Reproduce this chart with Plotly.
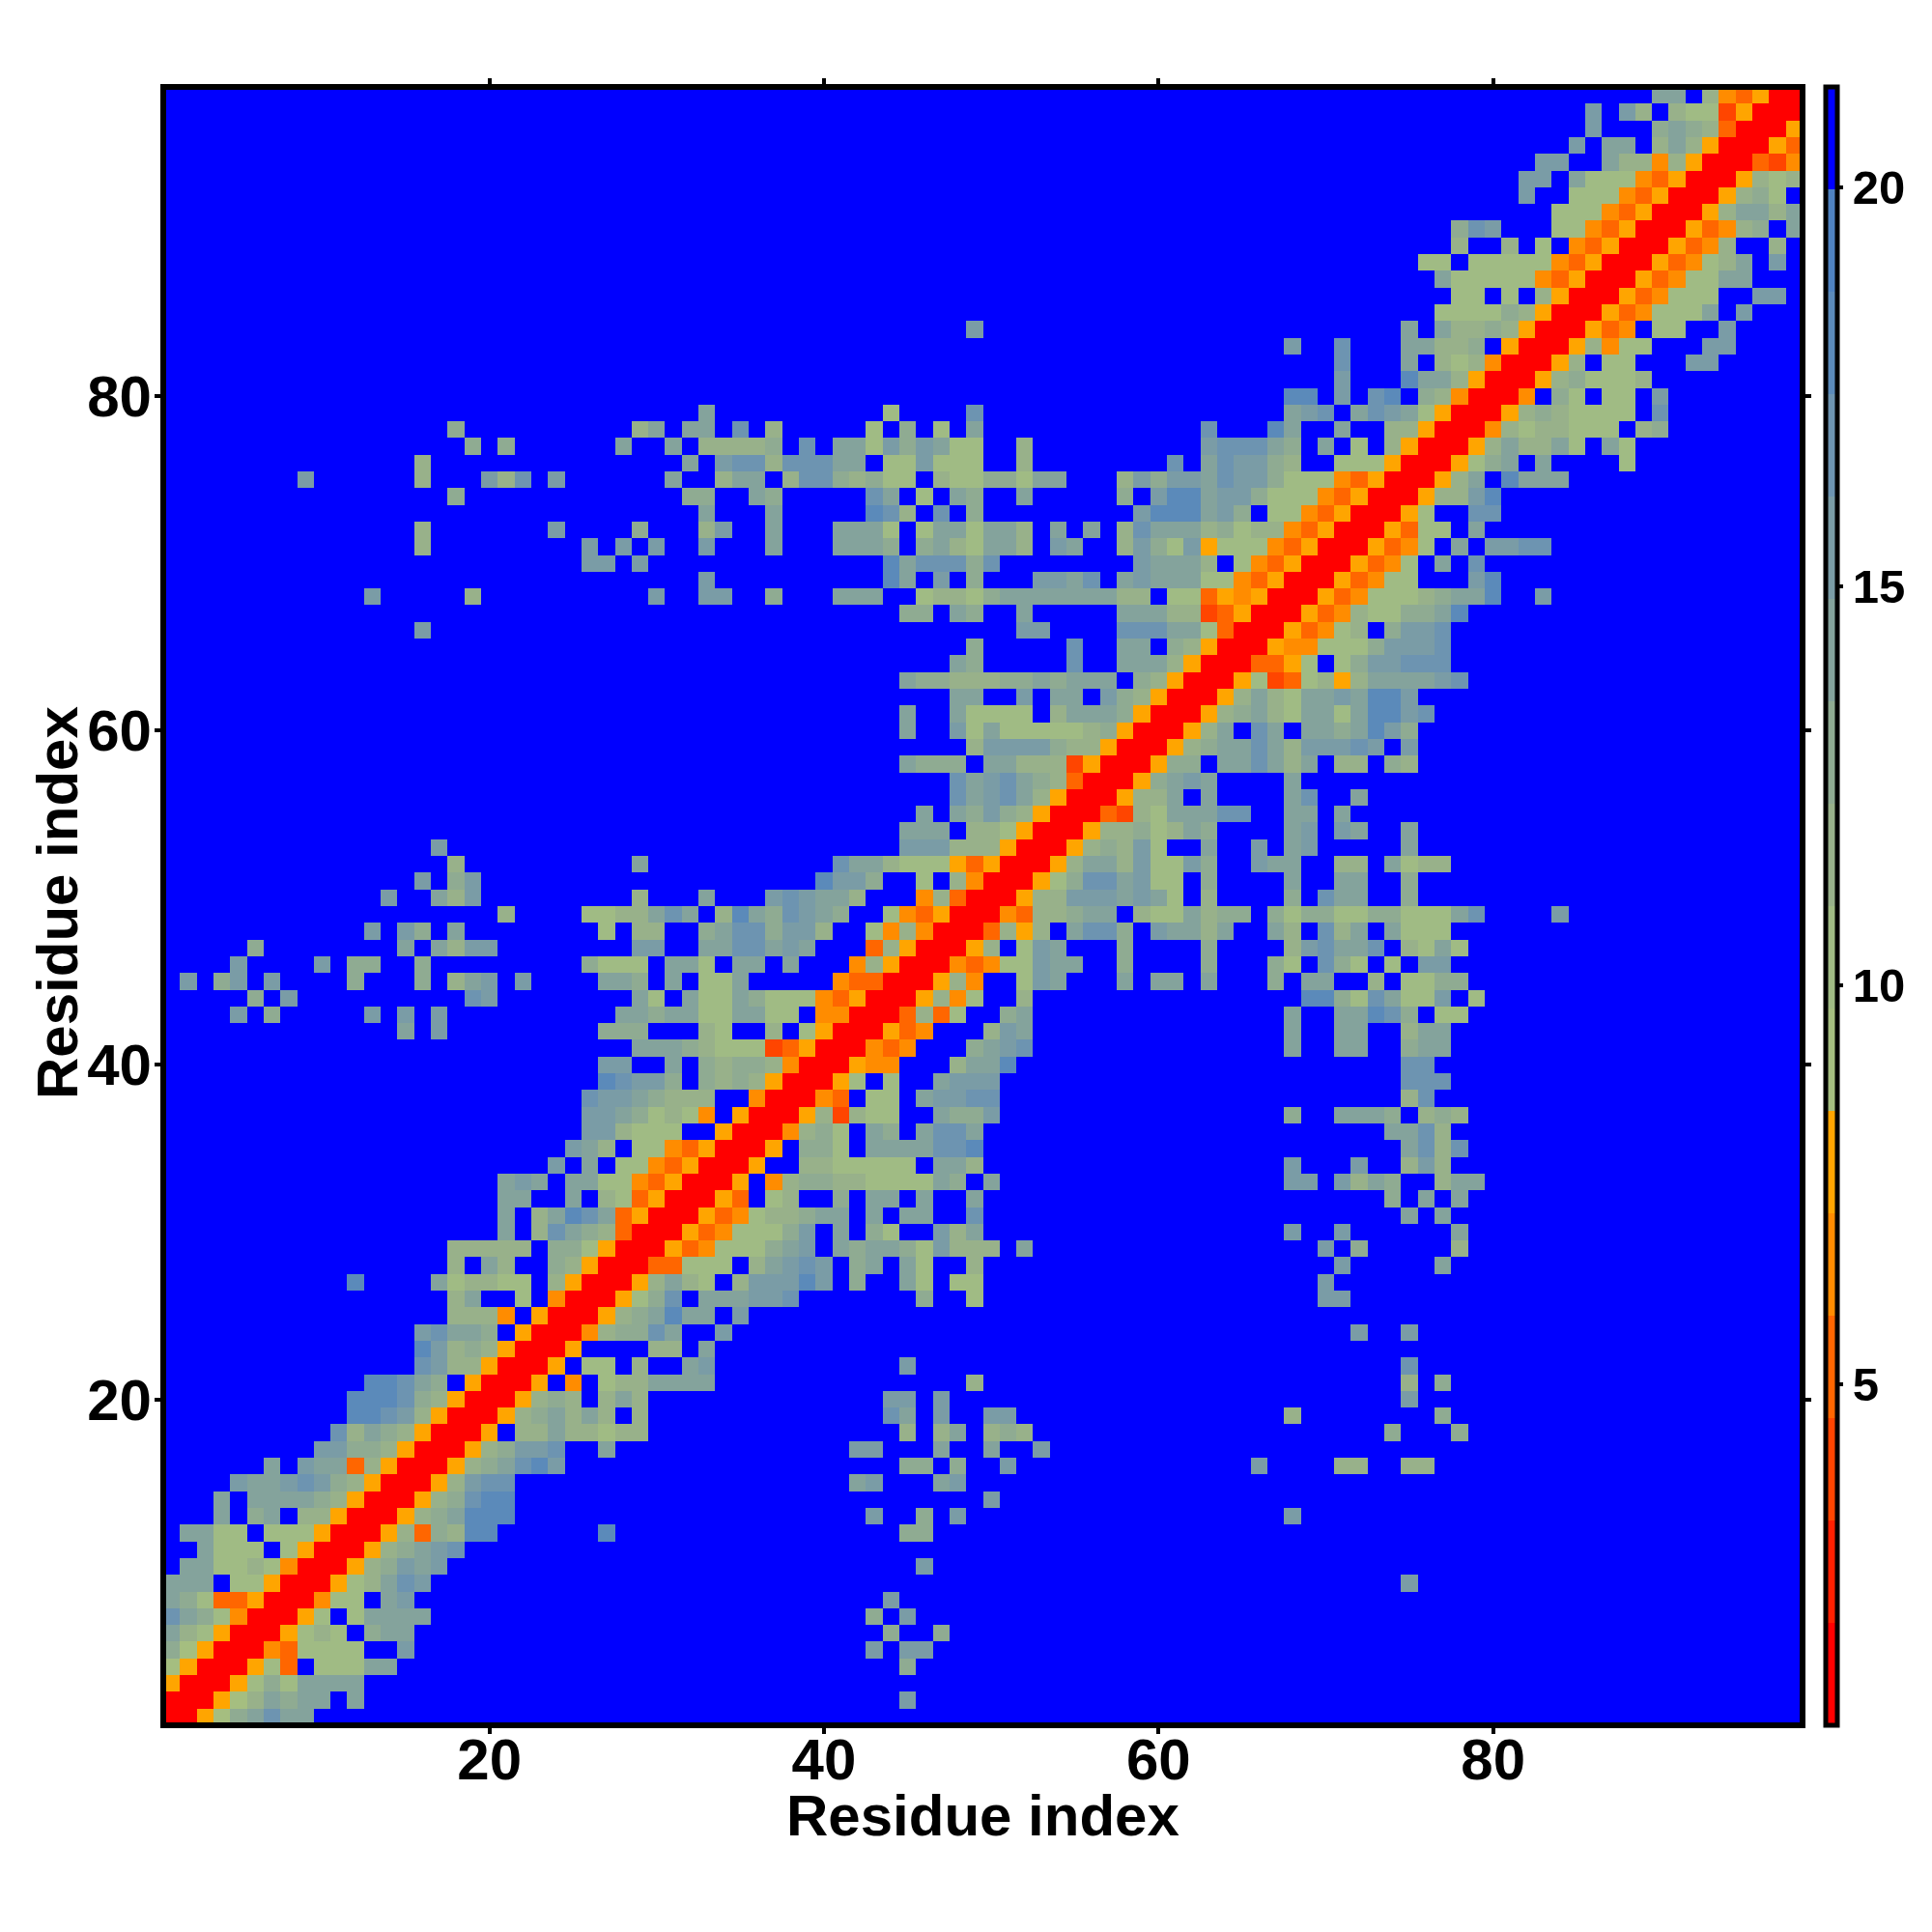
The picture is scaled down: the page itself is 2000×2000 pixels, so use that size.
import plotly.graph_objects as go

# One string per residue (row = residue index), columns 1..row; the map is a symmetric distance matrix.
# Each character is a distance class ("." = beyond the last class); "|" only groups columns.
distance_rows = [
"0",
"00",
"500",
"6500",
"96500",
"a87500",
"ca97400",
"a9733500",
"aaa.77500",
".aa7787400",
"..a777.7500",
".aa77.777500",
"...a.9a.88500",
"...a.aaaa98500",
"....baabcb98500",
"......a.baa38500",
".........bb998500",
"..........c8a98500",
"...........ddcb8500",
"...........dddc98500",
"............ddca9.500",
"...............cb88500",
"...............db898500",
"...............bcaa9.500",
".................8884.500",
".................8a..7.40|0",
"...........d....a78877.85|00",
".................8.a8..98|500",
".................88888.99|7500",
"....................a.8ca|98300",
"....................a.8ad|ca3500",
"....................aa..a|.873500",
"....................aba.a|a7743500",
".......................b.|a.7743500",
"........................b|a8.7743500",
".........................|bb8777..500",
".........................|bba97874.500",
".........................|cbba9888..400",
".........................|.dcbb9.9898500",
".........................|.bb..a.98998400",
".........................|...aaa9877723500",
"..............a.b........|.999...87..8.7500",
"....b.9.....b.b.b........|..aa9aa77aa77.4400",
".....9.b..........cb.....|...a7.a77a977743500",
".b.9b.b....9...9.8ab.b...|.aa9.a.77a.....43300",
"....b....b.99..9.........|9777.aa7.aa.a...48500",
".....9........a.a8bb.....|...bb..aaccaba...38500",
"............b.b9.a.......|.7.88..9acc9bb8..748400",
"....................8....|7788aca.8da9cba9..743500",
".............b..a8b......|...8...a...bcbaa8...48300",
"...............b.9b......|..............dbb9..7.840|0",
".................8.......|...a...........caa8777535|00",
"................b........|...................bbb888|500",
".........................|...................aaa.88|7500",
".........................|....................a.a9b|98500",
".........................|......................cab|ca8500",
".........................|......................cab|ca98300",
".........................|...................a999.a|a8882500",
".........................|.......................8b|bbb988500",
".........................|...................a..b7a|7777789500",
".........................|...................a..a77|77.8aaa9500",
".........................|......................aa.|.b.aa.b98500",
".........................|...................a99888|99a9aaa.98500",
".........................|......................a9.|....c..aaa8500",
".........................|.......................9.|....c..aa.98500",
"...............b.........|.........................|.bb....cccaa7300",
".........................|...................99.a9.|.a.....aaa8823500",
"............b.....8......|....b..bb..9...aaa..78879|aaaaaaa88.77354500",
".........................|.......b..........da.b.9.|..bbac.abaaa7743500",
".........................|bb.b..............daccc9c|........baaa8.743500",
"...............8.........|b.b.b..b...a...aaa9.9a87a|a8.ba..8b97b577743500",
"...............8.......b.|...9...8b..a...aaa7.7aa7a|a8.a.a.8caaa8978843500",
".........................|.......a...a.....dc8.c.9.|........bdddab9.7743500",
".................9.......|......99..a9.....ca.7.a9.|.a.....9.bddabb977743500",
"........b......8...b8c.b.|.....a..8aa.8cc98977.8779|97aa...8b9bbacbb977743500",
"...............8.........|......a.bcc8cccaa.77b777.|.8........c.acbb98..77750|0",
"..................9.9....|..a..a.88889.c.aa7b9ba77.|.8..........bccca9.a.7.85|00",
".................9.......|...8a.aa.c.8.....7.9.7.a.|............c...da..a..88|500",
".........................|.......a..........7....c.|.................abc.acba|7500",
".........................|.........................|.................dd.b.cd.|98400",
".........................|.........................|....................b...d|aa8500",
".........................|.........................|....................c...a|.878400",
".........................|.........................|.................b..c...a|a889.500",
".........................|.......................b.|........................a|.a8898500",
".........................|.........................|.........................|.777798500",
".........................|.........................|.........................|..77.7.8500",
".........................|.........................|.........................|.a7777743500",
".........................|.........................|.........................|77.7777743500",
".........................|.........................|.........................|..8..8.7.43500",
".........................|.........................|.........................|..9cb...7743500",
".........................|.........................|.........................|........77743500",
".........................|.........................|.........................|......b..77743500",
".........................|.........................|.........................|......bb.a77743500",
".........................|.........................|.........................|.......bb..a8848500",
".........................|.........................|.........................|.........b.aa.8a8500",
".........................|.........................|.........................|..........b...9a98300",
".........................|.........................|.........................|..........b.b8.8772500",
".........................|.........................|.........................|..............aa.843500",
]

class_codes = "012345" + "6789abcde" + "."
class_colors = [
    "#FF0000", "#FF2000", "#FF4500", "#FF6600", "#FF8C00", "#FFA500",
    "#A5BE80", "#A0BB84", "#98B18A", "#8FAB92", "#84A39C", "#7A9CA6", "#6D94B1", "#5B8ABA", "#4F82C0",
    "#0000FF",
]
z_min, z_max = 0.73, 21.26
colorbar_ticks = [5, 10, 15, 20]
axis_ticks = [20, 40, 60, 80]
residues = list(range(1, 99))
axis_title = "Residue index"

step = (z_max - z_min) / len(class_codes)
centre = {code: z_min + (i + 0.5) * step for i, code in enumerate(class_codes)}
scale = []
for i, colour in enumerate(class_colors):
    scale += [[i / 16, colour], [(i + 1) / 16, colour]]

n = len(residues)
z = [[None] * n for _ in range(n)]
for r, text in enumerate(distance_rows):
    cells = text.replace("|", "")
    assert len(cells) == r + 1, (r + 1, len(cells))
    for c, ch in enumerate(cells):
        z[r][c] = centre[ch]
        z[c][r] = centre[ch]

FONT = "Liberation Sans"
W, H = 2000, 2000
L, R, T, B = 169, 1866, 90, 1786
tick = dict(family=FONT, size=60, color="black", weight=700)
title_font = dict(family=FONT, size=60, color="black", weight=700)
cb_tick = dict(family=FONT, size=49, color="black", weight=700)

fig = go.Figure(go.Heatmap(
    x=residues, y=residues, z=z, zmin=z_min, zmax=z_max, colorscale=scale,
    colorbar=dict(
        x=(1889.5 - L) / (R - L), xref="paper", xanchor="left", xpad=0, ypad=0,
        y=0.5, yanchor="middle", len=1, thickness=12, outlinewidth=5, outlinecolor="black",
        ticks="outside", ticklen=4, tickwidth=4, tickcolor="black",
        tickvals=colorbar_ticks, ticktext=[str(v) for v in colorbar_ticks], tickfont=cb_tick,
    ),
))
axis = dict(
    range=[0.5, 98.5], tickvals=axis_ticks, ticktext=[str(v) for v in axis_ticks],
    ticks="outside", ticklen=8, tickwidth=4, tickcolor="black", tickfont=tick,
    showgrid=False, zeroline=False, showline=False, mirror="ticks",
)
fig.update_layout(
    width=W, height=H, autosize=False, paper_bgcolor="white", plot_bgcolor="white",
    margin=dict(l=L, r=W - R, t=T, b=H - B, pad=0),
    xaxis=dict(axis, ticklabelstandoff=-25),
    yaxis=dict(axis, ticklabelstandoff=-9),
    shapes=[dict(type="rect", xref="paper", yref="paper", x0=0, x1=1, y0=0, y1=1,
                 line=dict(color="black", width=6), layer="above")],
    annotations=[
        dict(text=axis_title, font=title_font, showarrow=False, xref="paper", yref="paper",
             x=0.5, y=(B - 1879) / (B - T), xanchor="center", yanchor="middle"),
        dict(text=axis_title, font=title_font, showarrow=False, xref="paper", yref="paper",
             x=(60 - L) / (R - L), y=(B - 935) / (B - T), xanchor="center", yanchor="middle",
             textangle=-90),
    ],
)
fig.write_html("out.html", config={"displayModeBar": False},
               post_script="document.body.style.margin='0';")
